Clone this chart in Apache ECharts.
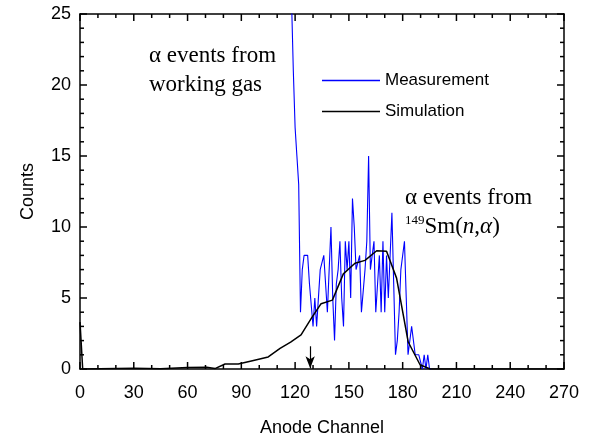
<!DOCTYPE html>
<html lang="en">
<head>
    <meta charset="UTF-8" />
    <title>Anode Channel</title>
    <style>
        body { margin: 0; padding: 0; background: #fff; }
        .chart { width: 594px; height: 443px; }
    </style>
</head>
<body>
<div class="chart"></div>
<script src="https://cdn.jsdelivr.net/npm/echarts@6/dist/echarts.min.js"></script>
<script>
    // measurement: counts per anode channel (start channel 118)
    const measStart = 118;
    const measCounts = [26, 21, 17, 15, 13, 4, 7, 8, 8, 8, 6, 6, 3, 5, 3, 3, 7, 7, 8, 8,
        4, 4, 10, 5, 2, 6, 7, 9, 5, 3, 9, 7, 9, 5, 12, 10, 7, 7, 8, 4,
        4, 7, 9, 15, 7, 8, 9, 4, 6, 8, 4, 9, 4, 8, 5, 8, 11, 6, 1, 2,
        4, 7, 7, 9, 5, 1, 2, 3, 3, 1, 1, 1, 1, 0, 1, 0, 1, 0, 0];
    // simulation curve
    const simChannel = [0, 1.5, 30, 45, 60, 70.7, 75.3, 80.9, 88.3, 95, 105, 111.6, 117.5, 123.3, 129.2,
        134.5, 140.8, 146.9, 153.4, 159, 165.5, 171, 176.6, 183.1, 189.7, 195.3, 270];
    const simCounts = [3.3, 0, 0.05, 0.02, 0.1, 0.12, 0.03, 0.35, 0.35, 0.55, 0.85, 1.45, 1.9, 2.4, 3.6,
        4.6, 4.85, 6.7, 7.45, 7.65, 8.33, 8.3, 6.4, 1.9, 0.3, 0, 0];
    const arrowChannel = 128.4;

    // axis ticks
    const xMajor = [0, 30, 60, 90, 120, 150, 180, 210, 240, 270];
    const xMinor = [10, 20, 40, 50, 70, 80, 100, 110, 130, 140, 160, 170, 190, 200, 220, 230, 250, 260];
    const yMajor = [0, 5, 10, 15, 20, 25];
    const yMinor = [1, 2, 3, 4, 6, 7, 8, 9, 11, 12, 13, 14, 16, 17, 18, 19, 21, 22, 23, 24];

    const measData = measCounts.map((v, i) => [measStart + i, v]);
    const simData = simChannel.map((c, i) => [c, simCounts[i]]);

    // tick marks as thin rect symbols sitting on the frame, shifted inward
    const MAJ = 7, MIN = 4, TW = 1.5;
    function xTicks(yVal, sign) {
        return xMajor.map(v => [v, MAJ]).concat(xMinor.map(v => [v, MIN])).map(t => ({
            value: [t[0], yVal], symbolSize: [TW, t[1]], symbolOffset: [0, sign * t[1] / 2]
        }));
    }
    function yTicks(xVal, sign) {
        return yMajor.map(v => [v, MAJ]).concat(yMinor.map(v => [v, MIN])).map(t => ({
            value: [xVal, t[0]], symbolSize: [t[1], TW], symbolOffset: [sign * t[1] / 2, 0]
        }));
    }
    const tickData = [].concat(xTicks(0, -1), xTicks(25, 1), yTicks(0, 1), yTicks(270, -1));

    const sans = 'Liberation Sans';
    const serif = 'Liberation Serif';

    function xAx(pos, main) {
        return {
            type: 'value', position: pos, min: 0, max: 270, interval: 30,
            name: main ? 'Anode Channel' : '', nameLocation: 'middle', nameGap: 50,
            nameTextStyle: { fontFamily: sans, fontSize: 18, color: '#000' },
            axisLine: { show: true, onZero: false, lineStyle: { color: '#000', width: 1.5 } },
            axisTick: { show: false },
            axisLabel: { show: main, margin: 15, fontFamily: sans, fontSize: 18, color: '#000' },
            splitLine: { show: false }
        };
    }
    function yAx(pos, main) {
        return {
            type: 'value', position: pos, min: 0, max: 25, interval: 5,
            name: main ? 'Counts' : '', nameLocation: 'middle', nameGap: 43, nameRotate: 90,
            nameTextStyle: { fontFamily: sans, fontSize: 18, color: '#000' },
            axisLine: { show: true, onZero: false, lineStyle: { color: '#000', width: 1.5 } },
            axisTick: { show: false },
            axisLabel: { show: main, margin: 9, fontFamily: sans, fontSize: 18, color: '#000' },
            splitLine: { show: false }
        };
    }

    const chart = echarts.init(document.querySelector('.chart'));
    chart.setOption({
        animation: false,
        grid: { left: 80, right: 30, top: 14, bottom: 74 },
        xAxis: [xAx('bottom', true), xAx('top', false)],
        yAxis: [yAx('left', true), yAx('right', false)],
        legend: {
            orient: 'vertical', left: 322, top: 72, padding: 0, itemWidth: 58, itemHeight: 1.5, itemGap: 14,
            icon: 'rect',
            textStyle: { fontFamily: sans, fontSize: 17, color: '#000' },
            data: ['Measurement', 'Simulation']
        },
        series: [
            {
                name: 'Measurement', type: 'line', symbol: 'none', clip: true,
                lineStyle: { color: '#0000ff', width: 1.1 }, itemStyle: { color: '#0000ff' },
                data: measData
            },
            {
                name: 'Simulation', type: 'line', symbol: 'none', clip: true,
                lineStyle: { color: '#000', width: 1.5 }, itemStyle: { color: '#000' },
                data: simData,
                markLine: {
                    silent: true, symbol: ['none', 'arrow'], symbolSize: [7, 12],
                    label: { show: false },
                    lineStyle: { color: '#000', width: 1.2, type: 'solid' },
                    data: [[{ coord: [arrowChannel, 1.6] }, { coord: [arrowChannel, 0.05] }]]
                }
            },
            {
                name: 'ticks', type: 'scatter', symbol: 'rect', silent: true, clip: false, z: 10,
                itemStyle: { color: '#000', opacity: 1 },
                emphasis: { disabled: true },
                data: tickData
            }
        ],
        graphic: [
            {
                type: 'text', left: 149, top: 41,
                style: { text: 'α events from\nworking gas', font: '23px "Liberation Serif"', fill: '#000', lineHeight: 29 }
            },
            {
                type: 'text', left: 405, top: 186,
                style: { text: 'α events from', font: '23px "Liberation Serif"', fill: '#000' }
            },
            {
                type: 'text', left: 405, top: 214,
                style: {
                    text: '{s|149}{t|Sm(}{i|n}{t|,}{i|α}{t|)}',
                    rich: {
                        s: { fontFamily: serif, fontSize: 13, verticalAlign: 'top', padding: [0, 0, 12, 0] },
                        t: { fontFamily: serif, fontSize: 23 },
                        i: { fontFamily: serif, fontSize: 23, fontStyle: 'italic' }
                    }
                }
            }
        ]
    });
</script>
</body>
</html>
